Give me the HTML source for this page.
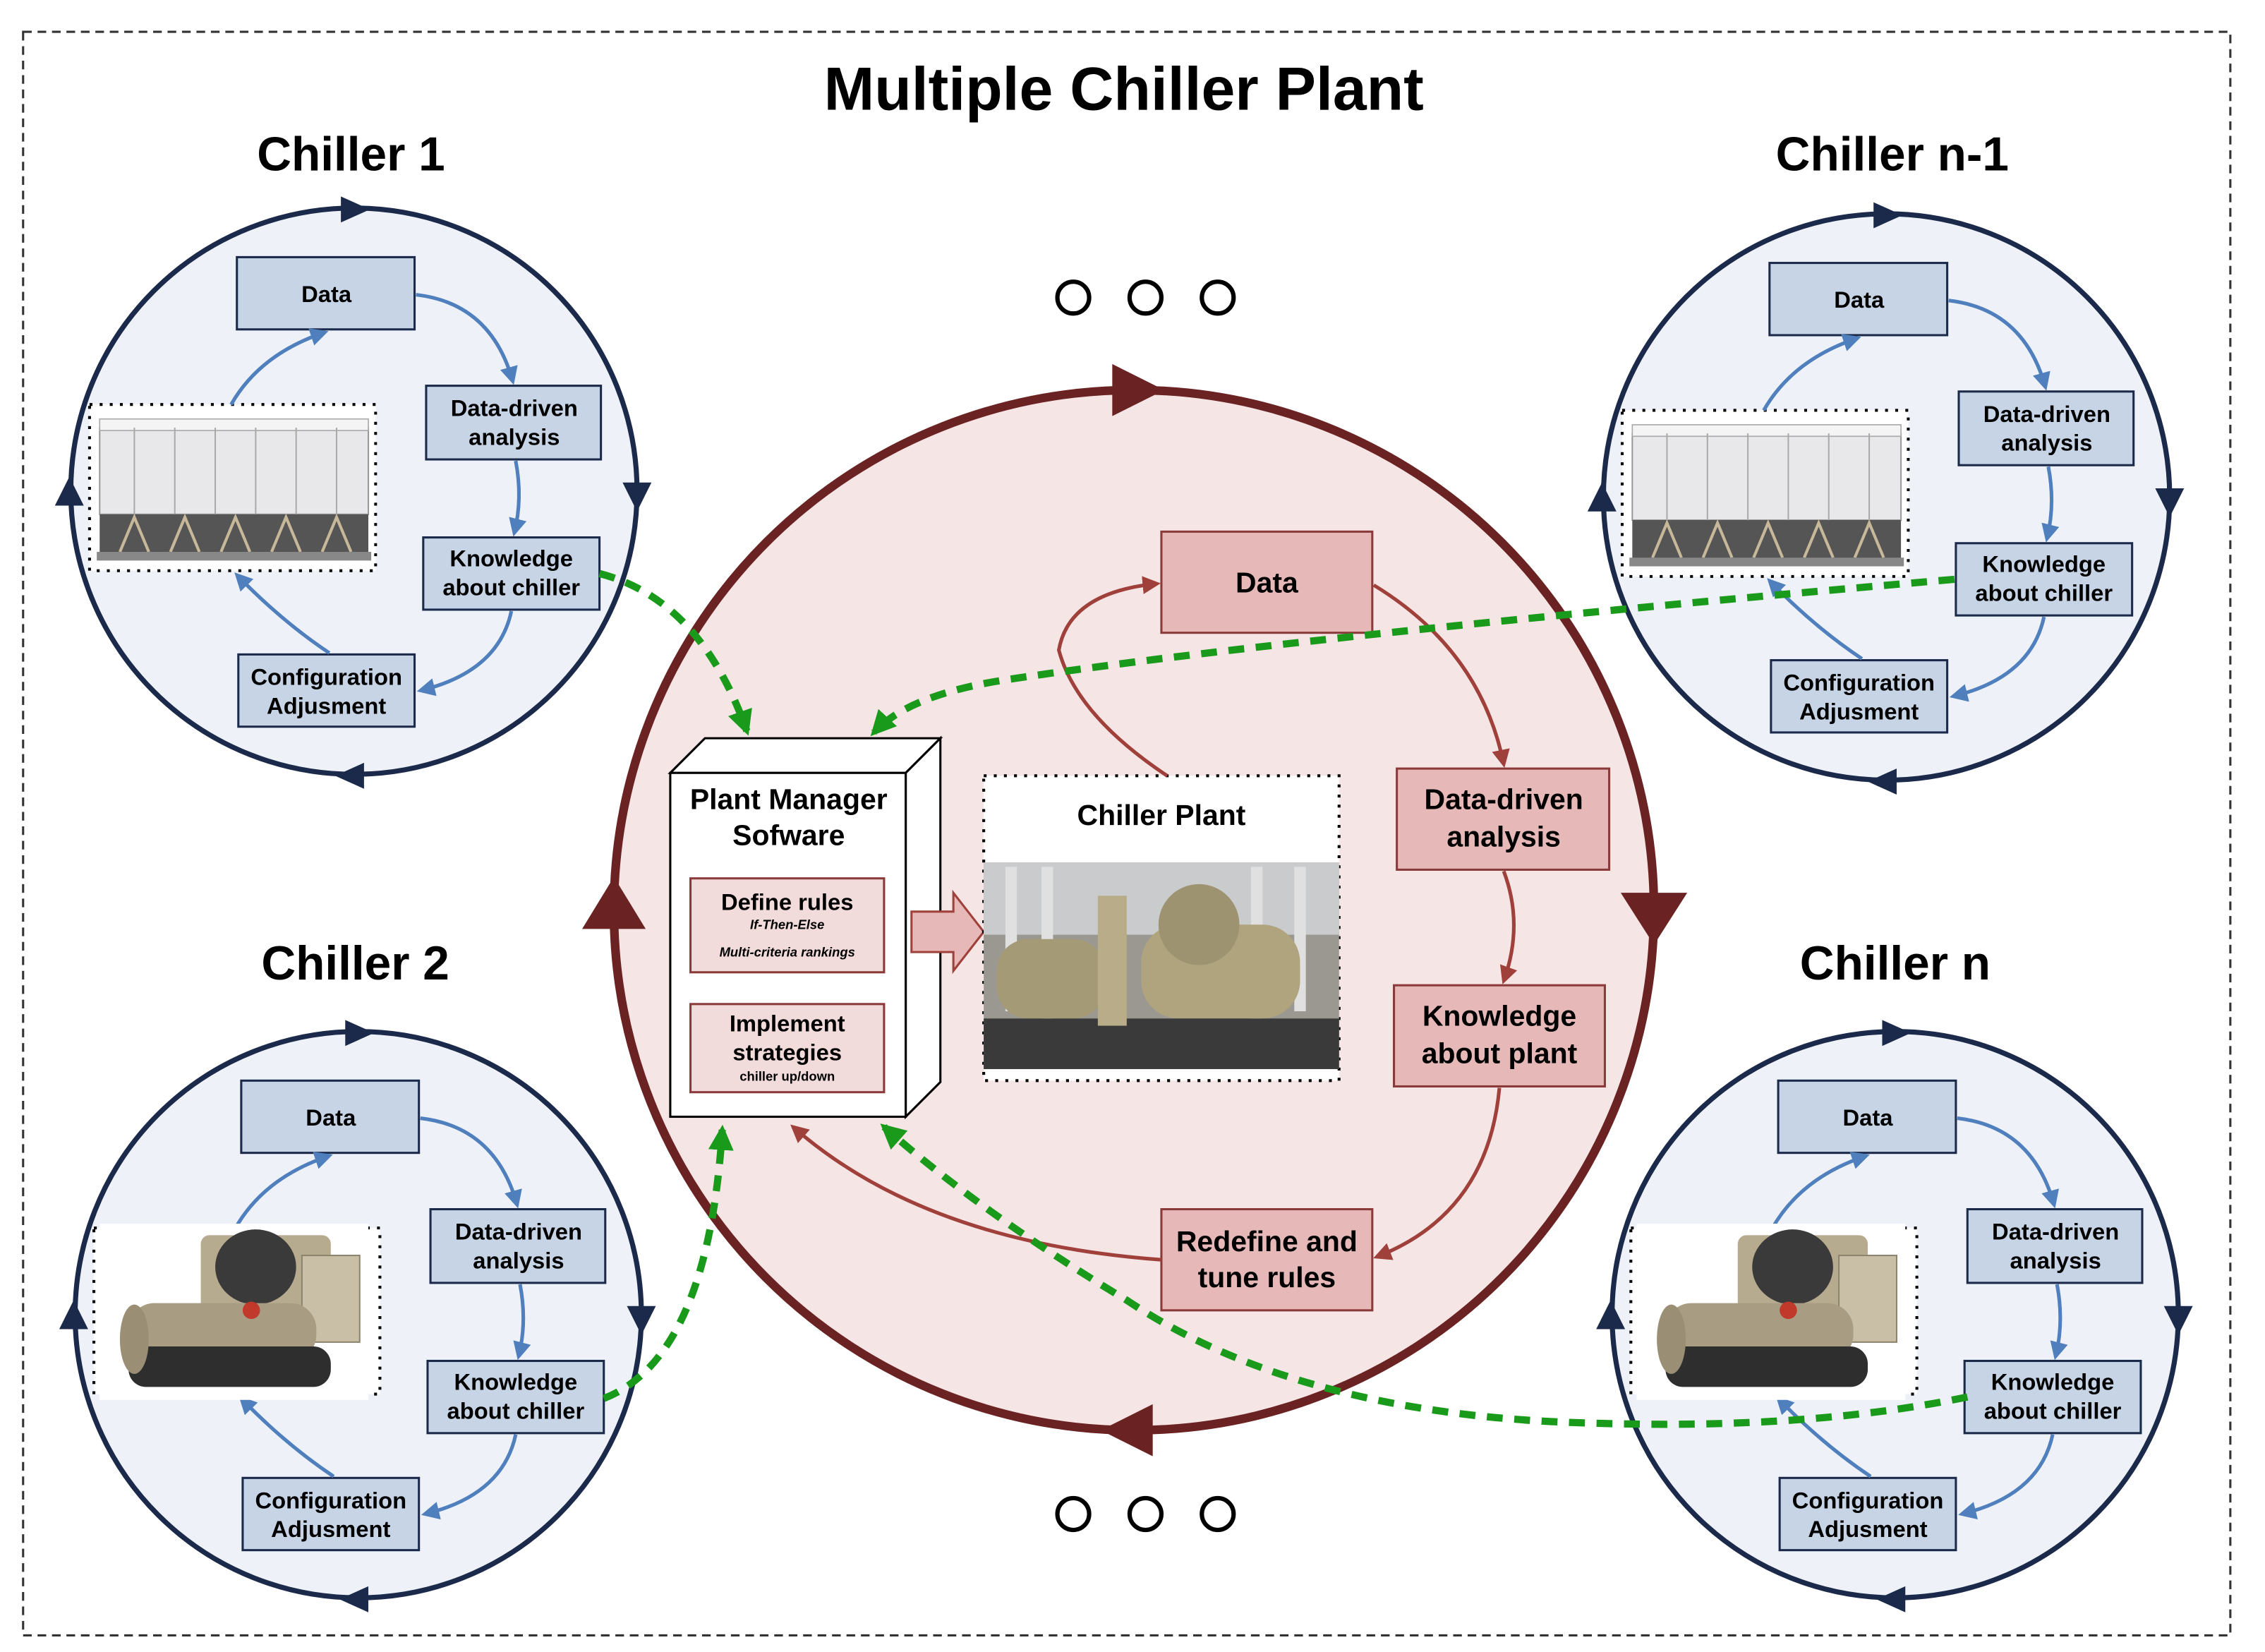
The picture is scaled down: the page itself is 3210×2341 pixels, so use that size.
<!DOCTYPE html>
<html><head><meta charset="utf-8"><style>
html,body{margin:0;padding:0;background:#fff}
svg{display:block}
text{font-family:"Liberation Sans",sans-serif;font-weight:bold;fill:#000}
</style></head><body>
<svg width="3210" height="2341" viewBox="0 0 1568 1143.5" preserveAspectRatio="none" xmlns="http://www.w3.org/2000/svg">
<defs>
<marker id="ba" viewBox="0 0 10 10" refX="8" refY="5" markerWidth="5" markerHeight="5" orient="auto"><path d="M0,0L10,5L0,10z" fill="#4f7fbd"/></marker>
<marker id="ra" viewBox="0 0 10 10" refX="8" refY="5" markerWidth="5" markerHeight="5" orient="auto"><path d="M0,0L10,5L0,10z" fill="#a0403a"/></marker>
<marker id="ga" viewBox="0 0 10 10" refX="8" refY="5" markerWidth="3.5" markerHeight="3.5" orient="auto"><path d="M0,0L10,5L0,10z" fill="#1a9a1a"/></marker>
<g id="air">
<rect x="0" y="0" width="196" height="112" fill="#fff"/>
<rect x="6" y="14" width="186" height="60" fill="#e8e8ea" stroke="#999" stroke-width="1"/>
<rect x="6" y="8" width="186" height="8" fill="#f4f4f4" stroke="#aaa" stroke-width="0.8"/>
<path d="M30 14V74M58 14V74M86 14V74M114 14V74M142 14V74M170 14V74" stroke="#aaa" stroke-width="1"/>
<rect x="6" y="74" width="186" height="28" fill="#555"/>
<path d="M20 100l10-24l10 24M55 100l10-24l10 24M90 100l10-24l10 24M125 100l10-24l10 24M160 100l10-24l10 24" stroke="#c8b89a" stroke-width="2" fill="none"/>
<rect x="4" y="100" width="190" height="6" fill="#888"/>
</g>
<g id="cent">
<rect x="0" y="0" width="186" height="122" fill="#fff"/>
<rect x="70" y="8" width="90" height="70" rx="6" fill="#b7ab8f"/>
<rect x="140" y="22" width="40" height="60" fill="#c9bfa6" stroke="#8d846d"/>
<ellipse cx="108" cy="30" rx="28" ry="26" fill="#3a3a3a"/>
<rect x="20" y="55" width="130" height="40" rx="18" fill="#a89d82"/>
<rect x="20" y="85" width="140" height="28" rx="12" fill="#2e2e2e"/>
<ellipse cx="24" cy="80" rx="10" ry="24" fill="#9a8f75"/>
<circle cx="105" cy="60" r="6" fill="#c0392b"/>
</g>
<g id="chiller">
<circle cx="245" cy="340" r="196" fill="#eef2f8" stroke="#1b2a4a" stroke-width="3.5"/>
<path d="M236 136l20 9l-20 9z" fill="#1b2a4a"/>
<path d="M431 334l10 20l10 -20z" fill="#1b2a4a"/>
<path d="M252 528l-20 9l20 9z" fill="#1b2a4a"/>
<path d="M38 350l10 -20l10 20z" fill="#1b2a4a"/>
<rect x="62" y="280" width="198" height="115" fill="#fff" stroke="#000" stroke-width="2" stroke-dasharray="2,5"/>
<rect x="164" y="178" width="123" height="50" fill="#c6d4e6" stroke="#1b2a4a" stroke-width="1.5"/>
<text x="226" y="209" font-size="16" text-anchor="middle">Data</text>
<rect x="295" y="267" width="121" height="51" fill="#c6d4e6" stroke="#1b2a4a" stroke-width="1.5"/>
<text x="356" y="288" font-size="16" text-anchor="middle">Data-driven</text>
<text x="356" y="308" font-size="16" text-anchor="middle">analysis</text>
<rect x="293" y="372" width="122" height="50" fill="#c6d4e6" stroke="#1b2a4a" stroke-width="1.5"/>
<text x="354" y="392" font-size="16" text-anchor="middle">Knowledge</text>
<text x="354" y="412" font-size="16" text-anchor="middle">about chiller</text>
<rect x="165" y="453" width="122" height="50" fill="#c6d4e6" stroke="#1b2a4a" stroke-width="1.5"/>
<text x="226" y="474" font-size="16" text-anchor="middle">Configuration</text>
<text x="226" y="494" font-size="16" text-anchor="middle">Adjusment</text>
<g fill="none" stroke="#4f7fbd" stroke-width="2.5">
<path d="M288 204Q340 210 355 264" marker-end="url(#ba)"/>
<path d="M357 319Q362 345 356 369" marker-end="url(#ba)"/>
<path d="M354 423Q345 465 291 478" marker-end="url(#ba)"/>
<path d="M228 452Q195 430 164 398" marker-end="url(#ba)"/>
<path d="M160 280Q180 245 225 230" marker-end="url(#ba)"/>
</g>
</g>
</defs>
<rect x="16" y="22" width="1528" height="1110" fill="#fff" stroke="#333" stroke-width="1.5" stroke-dasharray="6,4"/>
<text x="778" y="76" font-size="42" text-anchor="middle">Multiple Chiller Plant</text>

<text x="243" y="118" font-size="33" text-anchor="middle">Chiller 1</text>
<text x="1310" y="118" font-size="33" text-anchor="middle">Chiller n-1</text>
<text x="246" y="678" font-size="33" text-anchor="middle">Chiller 2</text>
<text x="1312" y="678" font-size="33" text-anchor="middle">Chiller n</text>

<use href="#chiller"/>
<use href="#air" x="63" y="282"/>
<g transform="translate(1061,4)"><use href="#chiller"/><use href="#air" x="63" y="282"/></g>
<g transform="translate(3,570)"><use href="#chiller"/><use href="#cent" x="66" y="277"/></g>
<g transform="translate(1067,570)"><use href="#chiller"/><use href="#cent" x="66" y="277"/></g>

<g fill="none" stroke="#000" stroke-width="3">
<circle cx="743" cy="206" r="11"/><circle cx="793" cy="206" r="11"/><circle cx="843" cy="206" r="11"/>
<circle cx="743" cy="1048" r="11"/><circle cx="793" cy="1048" r="11"/><circle cx="843" cy="1048" r="11"/>
</g>

<circle cx="785" cy="630" r="360" fill="#f5e5e5" stroke="#6b2222" stroke-width="6"/>
<path d="M770 252l36 18l-36 18z" fill="#6b2222"/>
<path d="M1122 618l23 36l23 -36z" fill="#6b2222"/>
<path d="M798 972l-36 18l36 18z" fill="#6b2222"/>
<path d="M403 643l22 -36l22 36z" fill="#6b2222"/>

<path d="M464 535L488 511L651 511L627 535z" fill="#fff" stroke="#000" stroke-width="1.5"/>
<path d="M627 535L651 511L651 749L627 773z" fill="#fff" stroke="#000" stroke-width="1.5"/>
<rect x="464" y="535" width="163" height="238" fill="#fff" stroke="#000" stroke-width="1.5"/>
<text x="546" y="560" font-size="20" text-anchor="middle">Plant Manager</text>
<text x="546" y="585" font-size="20" text-anchor="middle">Sofware</text>
<rect x="478" y="608" width="134" height="65" fill="#f2dcdb" stroke="#8b3a3a" stroke-width="1.5"/>
<text x="545" y="630" font-size="16" text-anchor="middle">Define rules</text>
<text x="545" y="643" font-size="9" font-style="italic" text-anchor="middle">If-Then-Else</text>
<text x="545" y="662" font-size="9" font-style="italic" text-anchor="middle">Multi-criteria rankings</text>
<rect x="478" y="695" width="134" height="61" fill="#f2dcdb" stroke="#8b3a3a" stroke-width="1.5"/>
<text x="545" y="714" font-size="16" text-anchor="middle">Implement</text>
<text x="545" y="734" font-size="16" text-anchor="middle">strategies</text>
<text x="545" y="748" font-size="9" text-anchor="middle">chiller up/down</text>
<path d="M631 631L660 631L660 618L681 645L660 672L660 659L631 659z" fill="#e6b8b7" stroke="#a0403a" stroke-width="1.5"/>

<rect x="681" y="537" width="246" height="211" fill="#fff" stroke="#000" stroke-width="2" stroke-dasharray="2,5"/>
<text x="804" y="571" font-size="20" text-anchor="middle">Chiller Plant</text>
<rect x="681" y="597" width="246" height="143" fill="#9a9890"/>
<rect x="681" y="597" width="246" height="50" fill="#c9cbcc"/>
<path d="M700 600V700M725 600V720M870 600V720M900 600V700" stroke="#e0e0e0" stroke-width="8"/>
<rect x="690" y="650" width="75" height="55" rx="22" fill="#a59a76"/>
<rect x="790" y="640" width="110" height="65" rx="26" fill="#b0a47e"/>
<ellipse cx="830" cy="640" rx="28" ry="28" fill="#9e9370"/>
<rect x="681" y="705" width="246" height="35" fill="#3a3a3a"/>
<rect x="760" y="620" width="20" height="90" fill="#b8ad88"/>

<g stroke="#8b3a3a" stroke-width="1.5" fill="#e6b8b7">
<rect x="804" y="368" width="146" height="70"/>
<rect x="967" y="532" width="147" height="70"/>
<rect x="965" y="682" width="146" height="70"/>
<rect x="804" y="837" width="146" height="70"/>
</g>
<g font-size="20" text-anchor="middle">
<text x="877" y="410">Data</text>
<text x="1041" y="560">Data-driven</text><text x="1041" y="586">analysis</text>
<text x="1038" y="710">Knowledge</text><text x="1038" y="736">about plant</text>
<text x="877" y="866">Redefine and</text><text x="877" y="891">tune rules</text>
</g>
<g fill="none" stroke="#a0403a" stroke-width="2.5">
<path d="M951 405Q1025 450 1041 529" marker-end="url(#ra)"/>
<path d="M1041 603Q1055 640 1041 679" marker-end="url(#ra)"/>
<path d="M1038 753Q1030 840 953 870" marker-end="url(#ra)"/>
<path d="M804 872Q640 860 549 780" marker-end="url(#ra)"/>
<path d="M808 537Q745 495 733 450Q740 410 801 404" marker-end="url(#ra)"/>
</g>

<g fill="none" stroke="#1a9a1a" stroke-width="5" stroke-dasharray="11,8">
<path d="M415 397Q485 415 517 506" marker-end="url(#ga)"/>
<path d="M1353 401Q900 440 700 470Q630 480 605 507" marker-end="url(#ga)"/>
<path d="M418 968Q490 940 500 782" marker-end="url(#ga)"/>
<path d="M1362 967Q1250 990 1100 985Q900 980 780 900Q680 840 612 780" marker-end="url(#ga)"/>
</g>
</svg>
</body></html>
